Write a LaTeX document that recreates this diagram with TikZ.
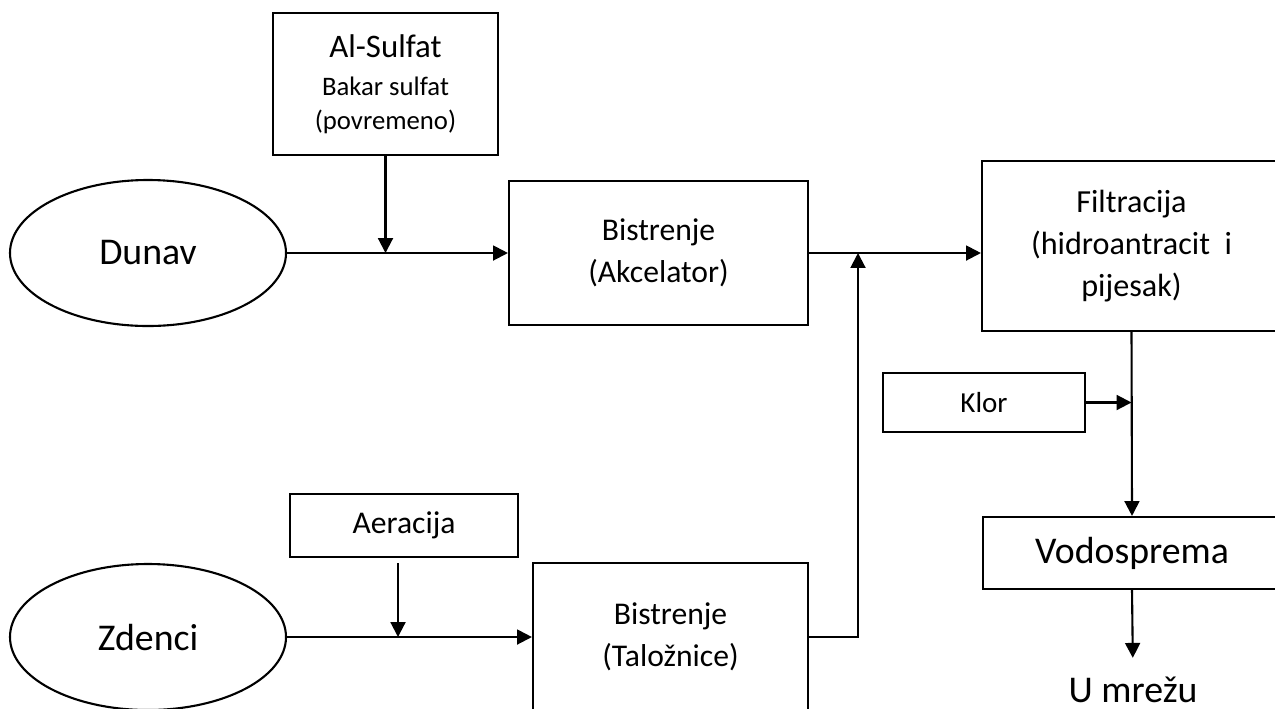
\documentclass[tikz,border=0pt]{standalone}
\usepackage{fontspec}
\setmainfont{Carlito}
\usetikzlibrary{shapes.geometric,arrows.meta}

\begin{document}
\begin{tikzpicture}[>={Triangle[length=8.5pt,width=8.5pt]},line width=1.2pt,
    box/.style={draw,rectangle,inner sep=0pt,align=center,font=\fontsize{18}{24}\selectfont},
    src/.style={draw,ellipse,inner sep=0pt,minimum width=5.52cm,minimum height=2.92cm,font=\fontsize{21.5}{24}\selectfont}]
    \useasboundingbox (0,0) rectangle (25.5,-14.16);
    % sources
    \node[src] (dunav) at (2.96,-5.06) {Dunav};
    \node[src] (zdenci) at (2.96,-12.74) {Zdenci};
    % additives
    \node[box, minimum width=4.5cm, minimum height=2.84cm, font=\fontsize{15.2}{19.5}\selectfont] (sulfat) at (7.71,-1.68)
        {{\fontsize{18.7}{20}\selectfont Al-Sulfat}\\[2pt] Bakar sulfat\\ (povremeno)};
    \node[box, minimum width=4.56cm, minimum height=1.26cm] (aer) at (8.08,-10.51) {Aeracija};
    \node[box, minimum width=4.04cm, minimum height=1.18cm, font=\fontsize{16.5}{24}\selectfont] (klor) at (19.68,-8.05) {Klor};
    % treatment
    \node[box, minimum width=5.98cm, minimum height=2.88cm] (akcel) at (13.17,-5.06) {Bistrenje\\ (Akcelator)};
    \node[box, minimum width=5.5cm, minimum height=2.96cm] (talo) at (13.41,-12.74) {Bistrenje\\ (Taložnice)};
    \node[box, minimum width=5.98cm, minimum height=3.4cm, font=\fontsize{18.3}{24}\selectfont] (filtr) at (22.63,-4.92)
        {Filtracija\\ (hidroantracit~ i\\ pijesak)};
    \node[box, minimum width=5.96cm, minimum height=1.44cm, font=\fontsize{21.5}{24}\selectfont] (vodo) at (22.64,-11.06) {Vodosprema};
    \node[anchor=base, inner sep=0pt, font=\fontsize{21.5}{24}\selectfont] (mreza) at (22.66,-14.04) {U mrežu};
    % junction of both lines
    \coordinate (spoj) at (17.16,-5.06);
    % connections
    \draw[->] (dunav.east) -- (akcel.west);
    \draw[->] (sulfat.south) -- (sulfat.south |- dunav.east);
    \draw[->] (zdenci.east) -- (talo.west);
    \draw[->,shorten <=3pt] ([xshift=-0.12cm]aer.south) -- ([xshift=-0.12cm]aer.south |- zdenci.east);
    \draw[->] (akcel.east) -- (akcel.east -| filtr.west);
    \draw[->] (talo.east) -| (spoj);
    \draw[->] (filtr.south) -- (vodo.north);
    \draw[->] (klor.east) -- (klor.east -| filtr.south);
    \draw[->,shorten >=10pt] (vodo.south) -- (mreza.north);
\end{tikzpicture}
\end{document}
